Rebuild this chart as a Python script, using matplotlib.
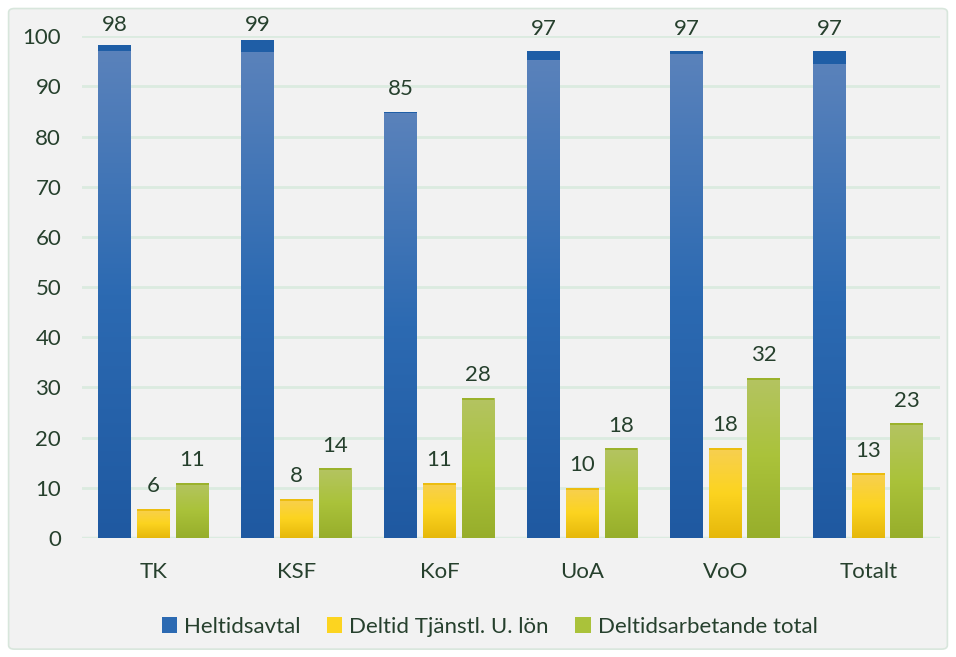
import numpy as np
import matplotlib
matplotlib.use("Agg")
import matplotlib.pyplot as plt
from matplotlib.patches import Rectangle, FancyBboxPatch
from matplotlib.colors import LinearSegmentedColormap

plt.rcParams['font.family'] = ['Lato', 'DejaVu Sans']

# Data
kategorier = ["TK", "KSF", "KoF", "UoA", "VoO", "Totalt"]
heltid = [98.2, 99.2, 84.9, 97.0, 97.0, 97.0]
heltid_gradient_slut = [97.0, 96.8, 84.6, 95.2, 96.4, 94.4]  # där den mörka toppen börjar
deltid_tjanstl = [5.8, 7.8, 11.0, 10.0, 18.0, 12.9]
deltid_total = [11.0, 13.9, 28.0, 17.9, 31.9, 22.9]
serienamn = ["Heltidsavtal", "Deltid Tjänstl. U. lön", "Deltidsarbetande total"]

textfarg = "#26402d"
gridfarg = "#dbebe0"

# färger (topp, mitt, botten, kant)
blaa = ["#5a82bb", "#2c6ab2", "#1f59a1", "#1f5ea6"]
gul = ["#f7cf52", "#fcd420", "#e6b80b", "#ecbd10"]
gron = ["#b4c462", "#aac23a", "#97ae2b", "#9bb22c"]

fig = plt.figure(figsize=(9.56, 6.57), dpi=100)
fig.patch.set_facecolor("white")
bakgrund = FancyBboxPatch((0.009, 0.012), 0.982, 0.975, boxstyle="round,pad=0,rounding_size=0.006",
                          transform=fig.transFigure, facecolor="#f2f2f2",
                          edgecolor="#d8e6dc", linewidth=1.2, zorder=-10)
fig.patches.append(bakgrund)

ax = fig.add_axes([0.0858, 0.181, 0.8972, 0.764])
ax.set_facecolor("none")

bredd = 0.23
forskjut = 0.27
x = np.arange(len(kategorier))


def gradient_stapel(xc, h, farger, topp=None):
    if h <= 0:
        return
    cmap = LinearSegmentedColormap.from_list("g", [farger[2], farger[1], farger[0]])
    g_top = topp if topp is not None else h
    grad = np.linspace(0, 1, 256).reshape(-1, 1)
    im = ax.imshow(grad, extent=(xc - bredd / 2, xc + bredd / 2, 0, g_top), origin="lower",
                   aspect="auto", cmap=cmap, zorder=2)
    rect = Rectangle((xc - bredd / 2, 0), bredd, g_top, transform=ax.transData,
                     facecolor="none", edgecolor="none")
    ax.add_patch(rect)
    im.set_clip_path(rect)
    if topp is not None:
        ax.add_patch(Rectangle((xc - bredd / 2, topp), bredd, h - topp, facecolor=farger[3],
                               edgecolor="none", zorder=3))
    else:
        ax.add_patch(Rectangle((xc - bredd / 2, h - 0.4), bredd, 0.4, facecolor=farger[3],
                               edgecolor="none", zorder=3))


for i in range(len(kategorier)):
    gradient_stapel(x[i] - forskjut, heltid[i], blaa, heltid_gradient_slut[i])
    gradient_stapel(x[i], deltid_tjanstl[i], gul)
    gradient_stapel(x[i] + forskjut, deltid_total[i], gron)
    for xc, v in [(x[i] - forskjut, heltid[i]), (x[i], deltid_tjanstl[i]), (x[i] + forskjut, deltid_total[i])]:
        # etiketterna högst upp hamnar på samma höjd
        ax.annotate(f"{v:.0f}", (xc, min(v, 97.8)), xytext=(0, 9), textcoords="offset points",
                    ha="center", va="bottom", fontsize=16, color=textfarg, annotation_clip=False)

ax.set_xlim(-0.5, 5.5)
ax.set_ylim(0, 100)
ax.set_yticks(range(0, 101, 10))
ax.yaxis.grid(True, color=gridfarg, linewidth=2)
ax.set_axisbelow(True)
ax.set_xticks(x)
ax.set_xticklabels(kategorier)
ax.tick_params(axis="x", length=0, pad=17, labelsize=16, labelcolor=textfarg)
ax.tick_params(axis="y", length=0, pad=15, labelsize=16, labelcolor=textfarg)
for s in ax.spines.values():
    s.set_visible(False)
ax.axhline(0, color=gridfarg, linewidth=2.5, zorder=1)

handles = [Rectangle((0, 0), 1, 1, facecolor=c[1]) for c in (blaa, gul, gron)]
fig.legend(handles, serienamn, loc="center", bbox_to_anchor=(0.512, 0.046), ncol=3, frameon=False,
           fontsize=16, labelcolor=textfarg, handlelength=0.7, handleheight=0.7,
           handletextpad=0.3, columnspacing=1.2)

fig.savefig("out.png", dpi=100, facecolor=fig.get_facecolor())
